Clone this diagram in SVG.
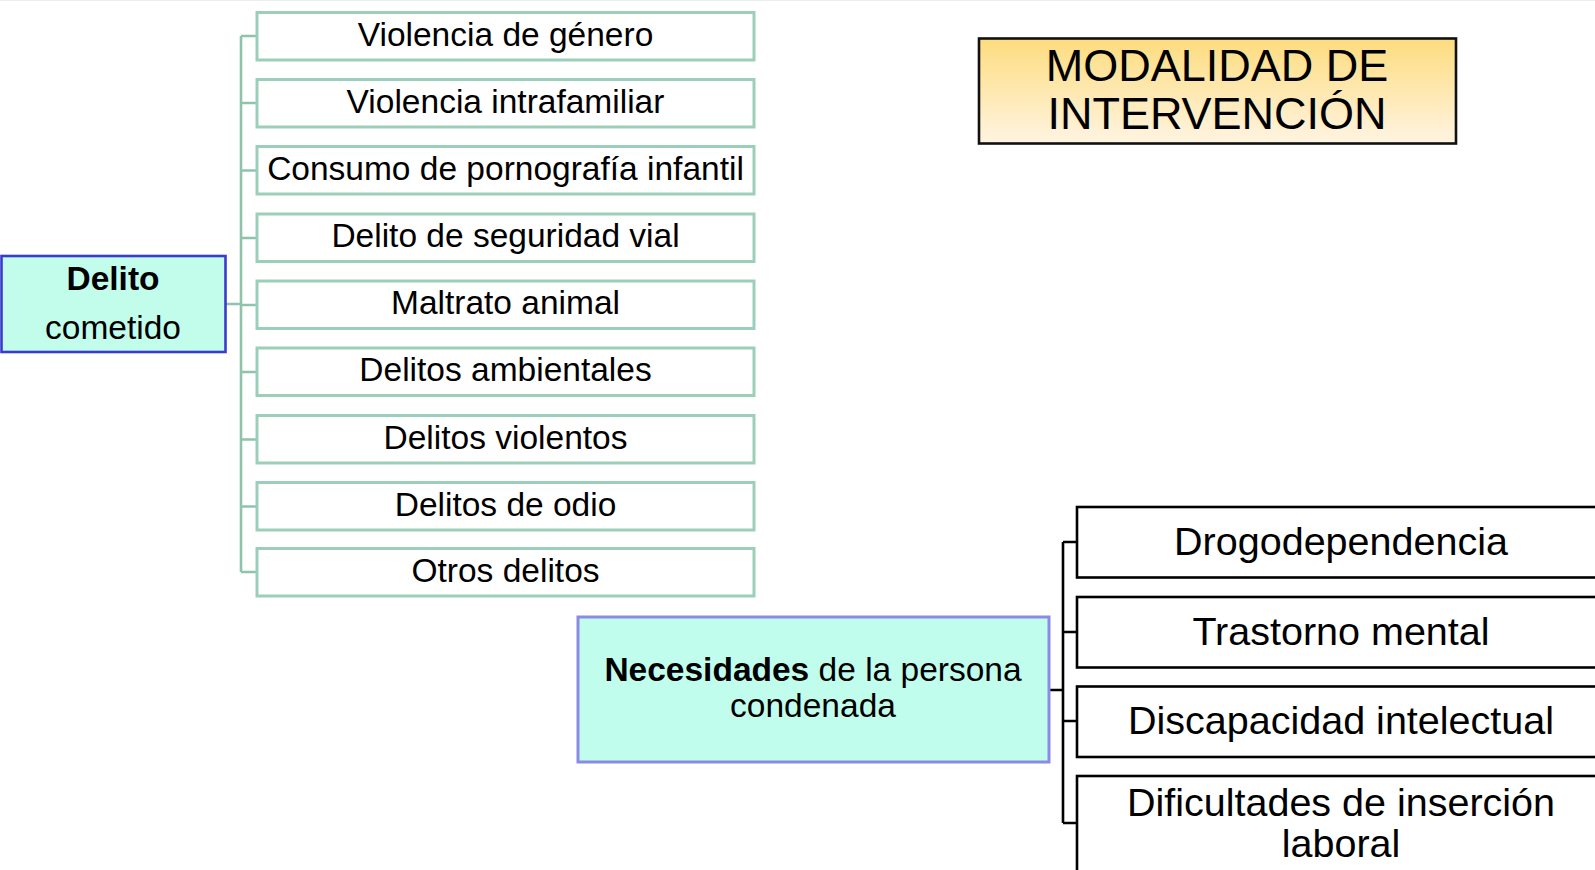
<svg xmlns="http://www.w3.org/2000/svg" width="1595" height="870" viewBox="0 0 1595 870">
<defs>
<linearGradient id="gold" x1="0" y1="0" x2="0" y2="1">
<stop offset="0" stop-color="#fddc7e"/>
<stop offset="1" stop-color="#fff4e2"/>
</linearGradient>
<style>
text{font-family:"Liberation Sans",Arial,sans-serif;fill:#000;}
.g rect{fill:#fff;stroke:#9ccfb9;stroke-width:3;}
.g text{font-size:33.5px;text-anchor:middle;}
.k rect{fill:#fff;stroke:#000;stroke-width:2.6;}
.k text{font-size:39.5px;text-anchor:middle;}
.gl{stroke:#8fc4ac;stroke-width:2.6;fill:none;}
.bl{stroke:#000;stroke-width:2.6;fill:none;}
</style>
</defs>
<rect x="0" y="0" width="1595" height="870" fill="#fff"/>
<line x1="0" y1="0.5" x2="1595" y2="0.5" stroke="#eeeeee" stroke-width="1"/>

<g id="connectors">
<path class="gl" d="M226 304H241M241 36V572M241 36H257M241 103H257M241 170.5H257M241 238H257M241 305H257M241 372H257M241 439.5H257M241 506.5H257M241 572H257"/>
<path class="bl" d="M1049 690H1063M1063 542V823M1063 542H1077M1063 632H1077M1063 721H1077M1063 823H1077"/>
</g>

<g id="delito">
<rect x="1.5" y="256" width="224" height="96" fill="#c2fdec" stroke="#3b3bcb" stroke-width="2.6"/>
<text x="113" y="290" font-size="33.5" font-weight="bold" text-anchor="middle">Delito</text>
<text x="113" y="339" font-size="33.5" text-anchor="middle">cometido</text>
</g>

<g id="d1" class="g"><rect x="257" y="12.5" width="497" height="47.5"/><text x="505.5" y="45.5">Violencia de género</text></g>
<g id="d2" class="g"><rect x="257" y="79.5" width="497" height="47.5"/><text x="505.5" y="112.5">Violencia intrafamiliar</text></g>
<g id="d3" class="g"><rect x="257" y="146.5" width="497" height="47.5"/><text x="505.5" y="179.5">Consumo de pornografía infantil</text></g>
<g id="d4" class="g"><rect x="257" y="214" width="497" height="47.5"/><text x="505.5" y="247">Delito de seguridad vial</text></g>
<g id="d5" class="g"><rect x="257" y="281" width="497" height="47.5"/><text x="505.5" y="314">Maltrato animal</text></g>
<g id="d6" class="g"><rect x="257" y="348" width="497" height="47.5"/><text x="505.5" y="381">Delitos ambientales</text></g>
<g id="d7" class="g"><rect x="257" y="415.5" width="497" height="47.5"/><text x="505.5" y="448.5">Delitos violentos</text></g>
<g id="d8" class="g"><rect x="257" y="482.5" width="497" height="47.5"/><text x="505.5" y="515.5">Delitos de odio</text></g>
<g id="d9" class="g"><rect x="257" y="548.5" width="497" height="47.5"/><text x="505.5" y="581.5">Otros delitos</text></g>

<g id="modalidad">
<rect x="979" y="38.5" width="477" height="105" fill="url(#gold)" stroke="#111" stroke-width="2.6"/>
<text x="1217" y="81" font-size="45" text-anchor="middle">MODALIDAD DE</text>
<text x="1217" y="129" font-size="45" text-anchor="middle">INTERVENCIÓN</text>
</g>

<g id="necesidades">
<rect x="578" y="617" width="471" height="145" fill="#c0fdec" stroke="#8b8be6" stroke-width="3"/>
<text x="813" y="681" font-size="33.5" text-anchor="middle"><tspan font-weight="bold">Necesidades</tspan> de la persona</text>
<text x="813" y="717" font-size="33.5" text-anchor="middle">condenada</text>
</g>

<g id="n1" class="k"><rect x="1077" y="507" width="530" height="70.5"/><text x="1341" y="555">Drogodependencia</text></g>
<g id="n2" class="k"><rect x="1077" y="597" width="530" height="70.5"/><text x="1341" y="645">Trastorno mental</text></g>
<g id="n3" class="k"><rect x="1077" y="686.5" width="530" height="70.5"/><text x="1341" y="734">Discapacidad intelectual</text></g>
<g id="n4" class="k"><rect x="1077" y="776" width="530" height="110"/><text x="1341" y="816">Dificultades de inserción<tspan x="1341" dy="41">laboral</tspan></text></g>
</svg>
